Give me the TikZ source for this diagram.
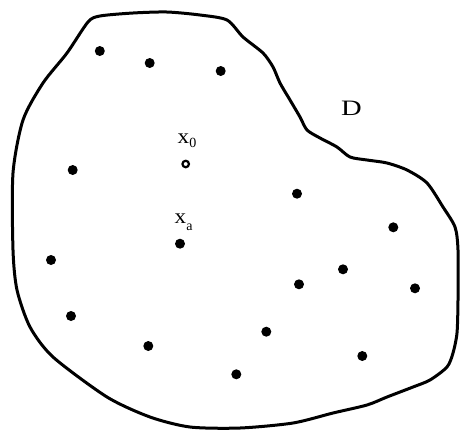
\documentclass[tikz,border=0pt]{standalone}
\usepackage{fontspec}
\setmainfont{Liberation Serif}
\begin{document}
\begin{tikzpicture}[x=1pt,y=-1pt,
  pt/.style={circle,fill=black,inner sep=0pt,minimum width=10pt,minimum height=9.5pt},
  opt/.style={circle,draw=black,line width=2.2pt,fill=white,inner sep=0pt,minimum size=6.5pt},
  lbl/.style={inner sep=0pt,anchor=base west},
  boundary/.style={line width=3pt,line join=round}]
\useasboundingbox (0,0) rectangle (460,432);
\draw[boundary] plot[smooth cycle,tension=0.45] coordinates {
 (88,22) (100,16) (133,13) (167,12) (200,15) (227,20) (243,37) (263,53)
 (273,67) (280,83) (290,100) (300,117) (307,130) (320,138) (337,147)
 (350,157) (367,160) (387,163) (407,170) (427,183) (443,207) (455,227)
 (458,250) (458,300) (457,333) (453,353) (447,367) (430,380) (413,387)
 (387,397) (367,405) (333,413) (293,423) (240,428) (190,427) (150,417)
 (107,397) (53,357) (30,327) (17,290) (13,250) (13,173) (23,120)
 (43,83) (67,53)};
\node[pt] (p1) at (99.8,51) {};
\node[pt] (p2) at (149.7,63) {};
\node[pt] (p3) at (220.7,71) {};
\node[pt] (p4) at (72.7,170) {};
\node[opt] (x0) at (185.7,164) {};
\node[pt] (p5) at (297,193.7) {};
\node[pt] (p6) at (393.3,227.3) {};
\node[pt] (xa) at (180,243.7) {};
\node[pt] (p7) at (51,260) {};
\node[pt] (p8) at (343,269.3) {};
\node[pt] (p9) at (299,284.3) {};
\node[pt] (p10) at (415,288.3) {};
\node[pt] (p11) at (71,316) {};
\node[pt] (p12) at (266.3,331.7) {};
\node[pt] (p13) at (148.3,346) {};
\node[pt] (p14) at (362.3,356) {};
\node[pt] (p15) at (236.3,374.3) {};
\node[lbl] (lx0) at (177.5,143) {\scalebox{1.1}[1]{\fontsize{21pt}{21pt}\selectfont x}\raisebox{-4pt}{\fontsize{14pt}{14pt}\selectfont 0}};
\node[lbl] (lxa) at (174.5,223) {\scalebox{1.1}[1]{\fontsize{21pt}{21pt}\selectfont x}\raisebox{-7pt}{\fontsize{14pt}{14pt}\selectfont a}};
\node[lbl] (lD) at (341,115) {\scalebox{1.3}[1]{\fontsize{22pt}{22pt}\selectfont D}};
\end{tikzpicture}
\end{document}
